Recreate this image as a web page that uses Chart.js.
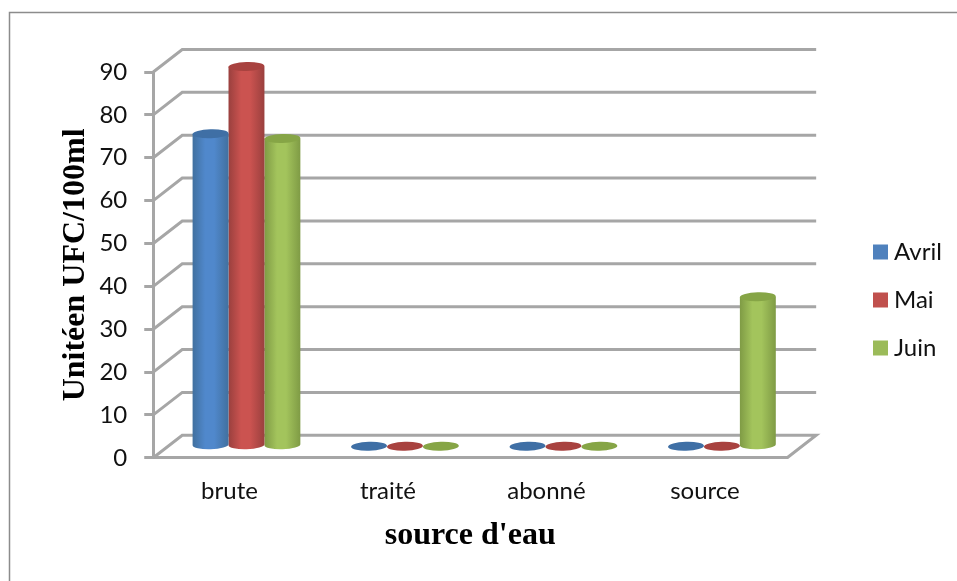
<!DOCTYPE html>
<html>
<head>
<meta charset="utf-8">
<script src="https://cdn.jsdelivr.net/npm/chart.js@4"></script>
<style>
  html, body { margin: 0; padding: 0; background: #fff; }
  #chart { display: block; }
</style>
</head>
<body>
<canvas id="chart" width="957" height="581"></canvas>
<script>
const categories = ["brute", "traité", "abonné", "source"];
const avril = [72.9, 0, 0, 0];
const mai = [88.6, 0, 0, 0];
const juin = [71.8, 0, 0, 34.9];

const GRID = "#a6a6a6";
const DEPTH_X = 29;   // back wall offset
const DEPTH_Y = 22.5;
const BAR_X = 14;     // bars stand in the middle of the floor
const BAR_Y = 11.5;
const ELLIPSE_RY = 4.5;

const shades = [
  { edge: "#41709f", mid: "#5088cc", top: "#3f6fa5" },
  { edge: "#9a403e", mid: "#cb5350", top: "#a8423f" },
  { edge: "#7f9b45", mid: "#a3c45c", top: "#86a546" }
];

// Floor and back wall behind the bars
const wallPlugin = {
  id: "wall",
  beforeDatasetsDraw(chart) {
    const { ctx, chartArea: a, scales: { y } } = chart;
    ctx.save();
    ctx.strokeStyle = GRID;
    ctx.lineWidth = 3;
    y.ticks.forEach(t => {
      const py = y.getPixelForValue(t.value);
      ctx.beginPath();
      ctx.moveTo(a.left, py);
      ctx.lineTo(a.left + DEPTH_X, py - DEPTH_Y);
      ctx.lineTo(a.right + DEPTH_X, py - DEPTH_Y);
      if (t.value === 0) ctx.lineTo(a.right, py);
      ctx.stroke();
    });
    ctx.restore();
  }
};

// Replaces the flat bars with cylinders
const cylinderPlugin = {
  id: "cylinder",
  beforeDatasetDraw(chart, args) {
    const { ctx } = chart;
    const c = shades[args.index];
    args.meta.data.forEach(bar => {
      const left = bar.x - bar.width / 2 + BAR_X;
      const right = left + bar.width;
      const cx = (left + right) / 2;
      const rx = bar.width / 2;
      const top = bar.y - BAR_Y;
      const base = bar.base - BAR_Y;
      ctx.save();
      if (base - top > 0.5) {
        const g = ctx.createLinearGradient(left, 0, right, 0);
        g.addColorStop(0, c.edge);
        g.addColorStop(0.35, c.mid);
        g.addColorStop(0.6, c.mid);
        g.addColorStop(1, c.edge);
        ctx.fillStyle = g;
        ctx.beginPath();
        ctx.moveTo(left, top);
        ctx.lineTo(left, base);
        ctx.ellipse(cx, base, rx, ELLIPSE_RY, -0.03, Math.PI, 0, true);
        ctx.lineTo(right, top);
        ctx.closePath();
        ctx.fill();
      }
      ctx.fillStyle = c.top;
      ctx.beginPath();
      ctx.ellipse(cx, top, rx, ELLIPSE_RY, -0.03, 0, Math.PI * 2);
      ctx.fill();
      ctx.restore();
    });
    return false;
  }
};

// Outer frame of the chart object
const framePlugin = {
  id: "frame",
  beforeDraw(chart) {
    const { ctx } = chart;
    ctx.save();
    ctx.strokeStyle = "#8c8c8c";
    ctx.lineWidth = 1.5;
    ctx.beginPath();
    ctx.moveTo(9.5, 581);
    ctx.lineTo(9.5, 12.5);
    ctx.lineTo(957, 12.5);
    ctx.stroke();
    ctx.restore();
  }
};

// The legend sits apart from the plot, out past the floor
const legendOffset = {
  id: "legendOffset",
  afterLayout(chart) {
    const legend = chart.legend;
    legend.left = 855;
    legend.right = 957;
    legend.top = 216;
    legend.bottom = 581;
  }
};

new Chart(document.getElementById("chart"), {
  type: "bar",
  data: {
    labels: categories,
    datasets: [
      { label: "Avril", data: avril, backgroundColor: "#4f81bd" },
      { label: "Mai", data: mai, backgroundColor: "#c0504d" },
      { label: "Juin", data: juin, backgroundColor: "#9bbb59" }
    ]
  },
  options: {
    responsive: false,
    animation: false,
    layout: { padding: { top: 72, right: 73, bottom: 26, left: 57 } },
    datasets: { bar: { categoryPercentage: 0.68, barPercentage: 1 } },
    plugins: {
      tooltip: { enabled: false },
      legend: {
        position: "right",
        align: "start",
        labels: {
          boxWidth: 3,
          boxHeight: 3,
          padding: 24,
          color: "#111",
          font: { family: "Lato", size: 24 },
          // a thick same-colour stroke keeps the swatch 15px with a tight gap to the text
          generateLabels: chart => Chart.defaults.plugins.legend.labels.generateLabels(chart)
            .map(item => ({ ...item, lineWidth: 12, strokeStyle: item.fillStyle }))
        }
      }
    },
    scales: {
      x: {
        grid: { display: false },
        border: { display: true, color: GRID, width: 3 },
        ticks: { color: "#111", padding: 11, labelOffset: -3, font: { family: "Lato", size: 24 } },
        title: {
          display: true,
          text: "source d'eau",
          color: "#000",
          padding: { top: 0, bottom: 0 },
          font: { family: "Liberation Serif", size: 32, weight: "bold" }
        }
      },
      y: {
        min: 0,
        max: 90,
        ticks: { stepSize: 10, color: "#111", padding: 17, font: { family: "Lato", size: 24 } },
        grid: { drawOnChartArea: false, color: GRID, lineWidth: 3, tickLength: 9 },
        border: { display: true, color: GRID, width: 3 },
        title: {
          display: true,
          text: "Unitéen UFC/100ml",
          color: "#000",
          padding: { top: 0, bottom: -13 },
          font: { family: "Liberation Serif", size: 32, weight: "bold" }
        }
      }
    }
  },
  plugins: [framePlugin, wallPlugin, cylinderPlugin, legendOffset]
});
</script>
</body>
</html>
